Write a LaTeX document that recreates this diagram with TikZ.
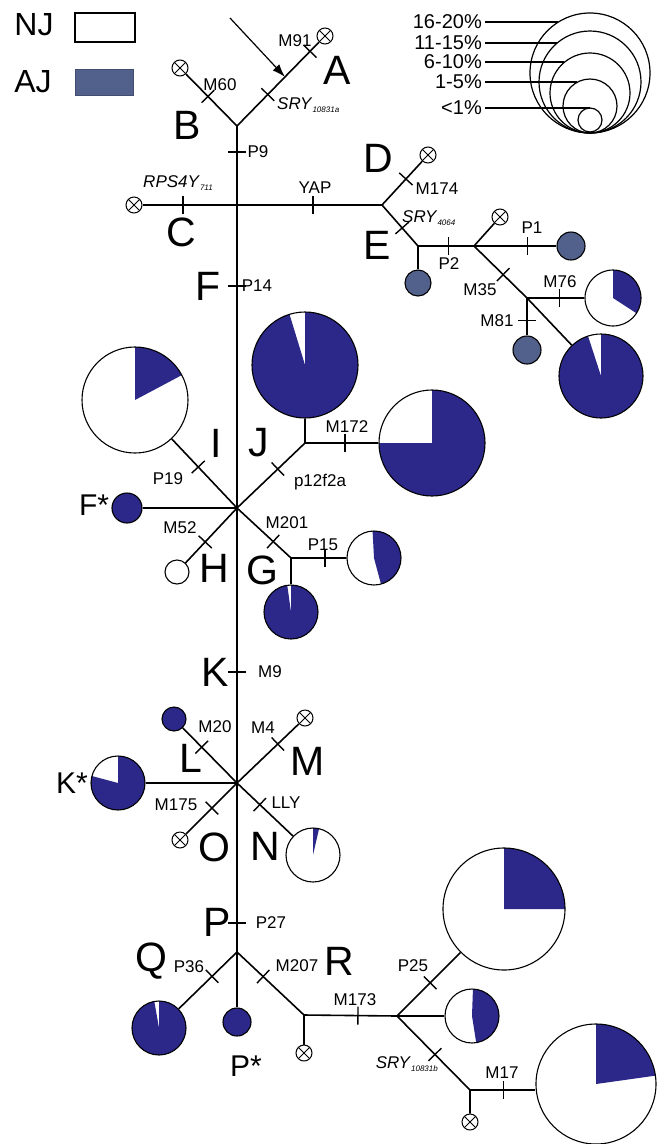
\documentclass[tikz,border=0pt]{standalone}
\usepackage{fontspec}
\setmainfont{Liberation Sans}
\usetikzlibrary{calc,arrows.meta}
\definecolor{ajdark}{RGB}{44,40,138}
\definecolor{ajgray}{RGB}{82,96,140}
\newcommand\mtick[3]{\coordinate (tk) at ($(#1)!#3!(#2)$);
  \draw[tickln] ($(tk)!9pt!90:(#2)$) -- ($(tk)!9pt!-90:(#2)$);}
\newcommand\subx[1]{\raisebox{-3pt}{\fontsize{8}{8}\selectfont\itshape #1}}
\begin{document}
\begin{tikzpicture}[x=1pt,y=-1pt,
  ln/.style={line width=1.6pt},
  tickln/.style={line width=1.4pt},
  bigl/.style={font=\fontsize{41}{41}\selectfont, inner sep=0pt},
  starl/.style={font=\fontsize{30}{30}\selectfont, inner sep=0pt},
  lbl/.style={font=\fontsize{17}{17}\selectfont, inner sep=0pt},
  pctl/.style={font=\fontsize{20}{20}\selectfont, inner sep=0pt},
  szc/.style={circle, draw, line width=1.2pt, inner sep=0pt},
  dotn/.style={circle, draw, line width=1.1pt, inner sep=0pt},
  xc/.style={circle, draw, line width=1pt, fill=white, inner sep=0pt, minimum size=16pt,
    path picture={\draw[line width=0.8pt] (path picture bounding box.north west) -- (path picture bounding box.south east)
      (path picture bounding box.north east) -- (path picture bounding box.south west);}},
  pie/.style n args={3}{circle, draw, line width=1.1pt, fill=white, inner sep=0pt, minimum size=2*#3pt,
    path picture={\fill[ajdark] (path picture bounding box.center) -- ++(#1:#3pt) arc[start angle=#1, end angle=#2, radius=#3pt] -- cycle;}}
]
\useasboundingbox (0,0) rectangle (657,1144);

% legend
\node[font=\fontsize{32}{32}\selectfont, inner sep=0pt] (NJt) at (34,25) {NJ};
\node[draw, line width=1.5pt, minimum width=60pt, minimum height=29pt, inner sep=0pt] (NJb) at (105,27.5) {};
\node[font=\fontsize{32}{32}\selectfont, inner sep=0pt] (AJt) at (33,82) {AJ};
\node[fill=ajgray, draw=ajgray!80!black, minimum width=58pt, minimum height=26pt, inner sep=0pt] (AJb) at (104,82) {};

% size legend
\node[szc, minimum size=120pt] (s5) at (590,73) {};
\node[szc, minimum size=102pt] (s4) at (590,82) {};
\node[szc, minimum size=80pt] (s3) at (590,93) {};
\node[szc, minimum size=54pt] (s2) at (590,106) {};
\node[szc, minimum size=24pt] (s1) at (590,120) {};
\node[pctl, anchor=east] (s5t) at (482,22) {16-20\%};
\node[pctl, anchor=east] (s4t) at (482,43) {11-15\%};
\node[pctl, anchor=east] (s3t) at (482,62) {6-10\%};
\node[pctl, anchor=east] (s2t) at (482,82) {1-5\%};
\node[pctl, anchor=east] (s1t) at (482,108) {<1\%};
\draw[line width=1.2pt] ([xshift=3pt]s5t.east) -- (s5t.east -| s5.122);
\draw[line width=1.2pt] ([xshift=3pt]s4t.east) -- (s4t.east -| s4.130);
\draw[line width=1.2pt] ([xshift=3pt]s3t.east) -- (s3t.east -| s3.129);
\draw[line width=1.2pt] ([xshift=3pt]s2t.east) -- (s2t.east -| s2.117);
\draw[line width=1.2pt] ([xshift=3pt]s1t.east) -- (s1t.east -| s1.90);

% junction coordinates
\coordinate (tA) at (237,126);
\coordinate (dE) at (382,205);
\coordinate (ef) at (418,246);
\coordinate (f2) at (474,246);
\coordinate (m35) at (527,298);
\coordinate (h1) at (237,508);
\coordinate (jf) at (305,443);
\coordinate (gf) at (291,558);
\coordinate (h2) at (237,783);
\coordinate (tP) at (237,952);
\coordinate (rf) at (304,1015);
\coordinate (f2b) at (397,1016);
\coordinate (f3) at (470,1090);
\coordinate (arrS) at (230,18);

% terminal nodes
\node[xc] (Bx) at (180,68) {};
\node[xc] (Ax) at (325,36) {};
\node[xc] (Cx) at (134,205) {};
\node[xc] (Dx) at (428,155) {};
\node[dotn, fill=ajgray, minimum size=26pt] (Eg) at (418,283) {};
\node[xc] (Ex) at (500,217) {};
\node[dotn, fill=ajgray, minimum size=28pt] (P1g) at (571,246) {};
\node[pie={108}{450}{42}] (bigE) at (601,376) {};
\node[pie={-33}{90}{28}] (M76p) at (613,298) {};
\node[dotn, fill=ajgray, minimum size=28pt] (M81g) at (527,350) {};
\node[dotn, fill=ajdark, minimum size=30pt] (Fst) at (127,508) {};
\node[pie={28}{90}{53}] (Ip) at (135,400) {};
\node[pie={107}{450}{53}] (Jp) at (305,365) {};
\node[pie={180}{450}{53}] (M172p) at (432,443) {};
\node[pie={-75}{93}{27}] (P15p) at (374,558) {};
\node[pie={98}{450}{27}] (Gp) at (291,612) {};
\node[dotn, fill=white, minimum size=24pt] (Hc) at (177,572) {};
\node[dotn, fill=ajdark, minimum size=24pt] (Lc) at (174,719) {};
\node[xc] (Mx) at (305,718) {};
\node[pie={165}{450}{27}] (Kp) at (118,783) {};
\node[xc] (Ox) at (180,840) {};
\node[pie={77}{90}{27}] (Np) at (313,855) {};
\node[pie={100}{450}{27}] (Qp) at (159,1028) {};
\node[dotn, fill=ajdark, minimum size=28pt] (Pst) at (237,1022) {};
\node[xc] (Rx) at (304,1053) {};
\node[pie={0}{90}{61}] (P25p) at (504,909) {};
\node[pie={-81}{88}{27}] (midp) at (472,1016) {};
\node[xc] (Sx) at (470,1122) {};
\node[pie={8}{90}{60}] (M17p) at (596,1084) {};
\coordinate (m17e) at (f3 -| M17p.west);

% connectors
\draw[ln] (Bx) -- (tA) -- (Ax);
\draw[ln] (tA) -- (tP);
\draw[ln] (Cx) -- (dE);
\draw[ln] (dE) -- (Dx);
\draw[ln] (dE) -- (ef) -- (f2);
\draw[ln] (ef) -- (Eg);
\draw[ln] (f2) -- (Ex);
\draw[ln] (f2) -- (P1g);
\draw[ln] (f2) -- (m35) -- (bigE);
\draw[ln] (m35) -- (M76p);
\draw[ln] (m35) -- (M81g);
\draw[ln] (h1) -- (Fst);
\draw[ln] (h1) -- (Ip);
\draw[ln] (h1) -- (jf) -- (Jp);
\draw[ln] (jf) -- (M172p);
\draw[ln] (h1) -- (gf) -- (P15p);
\draw[ln] (gf) -- (Gp);
\draw[ln] (h1) -- (Hc);
\draw[ln] (h2) -- (Lc);
\draw[ln] (h2) -- (Mx);
\draw[ln] (h2) -- (Kp);
\draw[ln] (h2) -- (Ox);
\draw[ln] (h2) -- (Np);
\draw[ln] (tP) -- (Qp);
\draw[ln] (tP) -- (Pst);
\draw[ln] (tP) -- (rf) -- (f2b);
\draw[ln] (rf) -- (Rx);
\draw[ln] (f2b) -- (P25p);
\draw[ln] (f2b) -- (midp);
\draw[ln] (f2b) -- (f3) -- (Sx);
\draw[ln] (f3) -- (m17e);
\coordinate (arrT) at ($(tA)!0.545!(Ax)$);
\draw[line width=1.2pt, -{Latex[length=13pt,width=9pt]}] (arrS) -- (arrT);

% ticks
\mtick{tA}{Bx}{0.51}
\mtick{tA}{Ax}{0.35}
\mtick{tA}{Ax}{0.83}
\mtick{tA}{tP}{0.0315}
\mtick{tA}{tP}{0.1937}
\mtick{tA}{tP}{0.661}
\mtick{tA}{tP}{0.9649}
\mtick{Cx}{dE}{0.198}
\mtick{Cx}{dE}{0.722}
\mtick{dE}{Dx}{0.52}
\mtick{dE}{ef}{0.56}
\mtick{ef}{f2}{0.54}
\mtick{f2}{P1g}{0.55}
\mtick{f2}{m35}{0.55}
\mtick{m35}{M76p}{0.38}
\mtick{m35}{M81g}{0.43}
\mtick{h1}{Ip}{0.38}
\mtick{h1}{jf}{0.60}
\mtick{jf}{M172p}{0.315}
\mtick{h1}{gf}{0.67}
\mtick{gf}{P15p}{0.41}
\mtick{h1}{Hc}{0.53}
\mtick{h2}{Lc}{0.56}
\mtick{h2}{Mx}{0.6}
\mtick{h2}{Ox}{0.44}
\mtick{h2}{Np}{0.30}
\mtick{tP}{Qp}{0.32}
\mtick{tP}{rf}{0.39}
\mtick{rf}{f2b}{0.58}
\mtick{f2b}{P25p}{0.31}
\mtick{f2b}{f3}{0.52}
\mtick{f3}{m17e}{0.515}

% big letters
\node[bigl] (lA) at (337,70) {A};
\node[bigl] (lB) at (187,125) {B};
\node[bigl] (lC) at (181,232) {C};
\node[bigl] (lD) at (378,158) {D};
\node[bigl] (lE) at (377,245) {E};
\node[bigl] (lF) at (208,286) {F};
\node[bigl] (lI) at (216,443) {I};
\node[bigl] (lJ) at (259,443) {J};
\node[bigl] (lH) at (214,568) {H};
\node[bigl] (lG) at (262,570) {G};
\node[bigl] (lK) at (215,672) {K};
\node[bigl] (lL) at (191,758) {L};
\node[bigl] (lM) at (308,761) {M};
\node[bigl] (lO) at (214,847) {O};
\node[bigl] (lN) at (265,846) {N};
\node[bigl] (lP) at (217,922) {P};
\node[bigl] (lQ) at (151,961) {Q};
\node[bigl] (lR) at (339,961) {R};
\node[starl] (lFs) at (94,505) {F*};
\node[starl] (lKs) at (72,783) {K*};
\node[starl] (lPs) at (246,1066) {P*};

% marker labels
\node[lbl] (tM60) at (220,85) {M60};
\node[lbl] (tM91) at (295,41) {M91};
\node[lbl, anchor=west] (tSa) at (277,105) {\textit{SRY}\subx{10831a}};
\node[lbl] (tP9) at (258,152) {P9};
\node[lbl] (tRPS) at (178,183) {\textit{RPS4Y}\subx{711}};
\node[lbl] (tYAP) at (315,188) {YAP};
\node[lbl] (tM174) at (437,189) {M174};
\node[lbl, anchor=west] (tS4) at (402,218) {\textit{SRY}\subx{4064}};
\node[lbl] (tP2) at (449,264) {P2};
\node[lbl] (tP1) at (532,228) {P1};
\node[lbl] (tM35) at (480,290) {M35};
\node[lbl] (tM76) at (560,282) {M76};
\node[lbl] (tM81) at (497,321) {M81};
\node[lbl] (tP14) at (257,286) {P14};
\node[lbl] (tP19) at (168,479) {P19};
\node[lbl] (tp12) at (320,482) {p12f2a};
\node[lbl] (tM172) at (347,427) {M172};
\node[lbl] (tM201) at (287,523) {M201};
\node[lbl] (tP15) at (323,545) {P15};
\node[lbl] (tM52) at (180,528) {M52};
\node[lbl] (tM9) at (270,672) {M9};
\node[lbl] (tM20) at (215,727) {M20};
\node[lbl] (tM4) at (263,728) {M4};
\node[lbl] (tM175) at (176,805) {M175};
\node[lbl] (tLLY) at (286,803) {LLY};
\node[lbl] (tP27) at (271,923) {P27};
\node[lbl] (tP36) at (189,967) {P36};
\node[lbl] (tM207) at (297,966) {M207};
\node[lbl] (tM173) at (355,1000) {M173};
\node[lbl] (tP25) at (413,966) {P25};
\node[lbl, anchor=east] (tSb) at (438,1064) {\textit{SRY}\subx{10831b}};
\node[lbl] (tM17) at (502,1073) {M17};
\end{tikzpicture}
\end{document}
